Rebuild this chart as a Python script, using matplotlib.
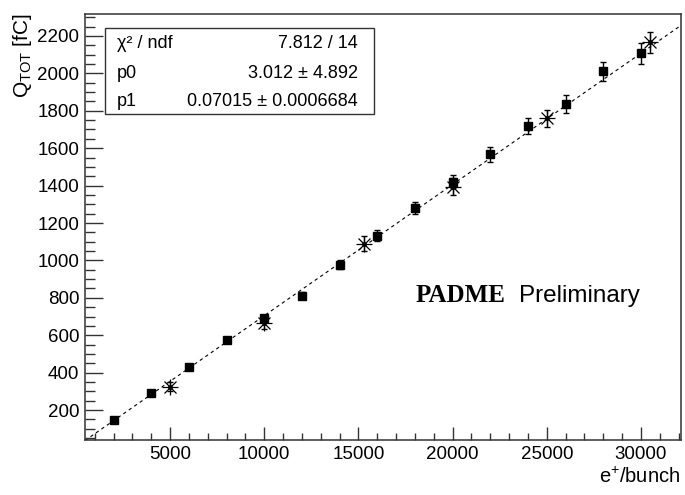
import matplotlib
matplotlib.use("Agg")
import numpy as np
from matplotlib import pyplot as plt
from matplotlib.patches import Rectangle
from matplotlib.ticker import MultipleLocator

plt.rcParams['font.family'] = ['Liberation Sans', 'DejaVu Sans']
plt.rcParams['mathtext.fontset'] = 'custom'
plt.rcParams['mathtext.rm'] = 'Liberation Sans'
plt.rcParams['mathtext.it'] = 'Liberation Sans:italic'
plt.rcParams['mathtext.bf'] = 'Liberation Sans:bold'

# square markers
sq_x = [2000, 4000, 6000, 8000, 10000, 12000, 14000, 16000, 18000,
        20000, 22000, 24000, 26000, 28000, 30000]
sq_y = [146, 292, 432, 574, 690, 812, 978, 1132, 1282,
        1421, 1567, 1719, 1836, 2010, 2107]
sq_err = [10, 12, 14, 16, 18, 20, 24, 28, 32, 36, 40, 43, 46, 53, 55]

# asterisk markers
st_x = [5000, 10000, 15300, 20000, 25000, 30500]
st_y = [325, 667, 1088, 1395, 1760, 2165]
st_err = [25, 35, 40, 45, 45, 55]

# linear fit result
p0, p0_err = 3.012, 4.892
p1, p1_err = 0.07015, 0.0006684
chi2, ndf = 7.812, 14

W, H = 685, 495
fig = plt.figure(figsize=(W / 100, H / 100), dpi=100)
L, R, T, B = 85, 681, 13.5, 440
ax = fig.add_axes([L / W, 1 - B / H, (R - L) / W, (B - T) / H])

xmin, xmax = 486, 32124
ymin, ymax = 40, 2320
ax.set_xlim(xmin, xmax)
ax.set_ylim(ymin, ymax)

# fit line
xf = np.array([xmin, xmax])
ax.plot(xf, p0 + p1 * xf, ls=(0, (3, 3)), color='black', lw=0.8, zorder=1)

ax.errorbar(sq_x, sq_y, yerr=sq_err, fmt='s', color='black', ms=5.8,
            elinewidth=1.0, capsize=2.5, capthick=1.0, zorder=3)
ax.errorbar(st_x, st_y, yerr=st_err, fmt='none', ecolor='black',
            elinewidth=1.0, capsize=2.5, capthick=1.0, zorder=3)
ax.plot(st_x, st_y, ls='none', marker='+', ms=11, mew=0.9, color='black', zorder=4)
ax.plot(st_x, st_y, ls='none', marker='x', ms=8, mew=0.9, color='black', zorder=4)
ax.plot(st_x, st_y, ls='none', marker='o', ms=2.5, color='black', zorder=4)

ax.xaxis.set_major_locator(MultipleLocator(5000))
ax.xaxis.set_minor_locator(MultipleLocator(1000))
ax.yaxis.set_major_locator(MultipleLocator(200))
ax.yaxis.set_minor_locator(MultipleLocator(50))
ax.tick_params(axis='both', which='both', direction='in', labelsize=13.5,
               top=False, right=False, width=1.0, color='#333333')
ax.tick_params(axis='x', which='major', length=9.4, pad=4)
ax.tick_params(axis='x', which='minor', length=5)
ax.tick_params(axis='y', which='major', length=13, pad=4)
ax.tick_params(axis='y', which='minor', length=7)
for s in ax.spines.values():
    s.set_linewidth(1.1)
    s.set_color('#333333')

# axis titles, ROOT style at the axis ends
fig.text(22 / W, 1 - 13 / H, r'Q$_{\mathrm{TOT}}$ [fC]', rotation=90,
         ha='center', va='top', fontsize=15)
fig.text(680 / W, 1 - 477 / H, r'e$^{+}$/bunch', ha='right', va='center',
         fontsize=14.5)


def axc(px, py):
    return (px - L) / (R - L), (B - py) / (B - T)


# stats box
bx0, by0 = axc(105, 114)
bx1, by1 = axc(374, 28)
ax.add_patch(Rectangle((bx0, by0), bx1 - bx0, by1 - by0, transform=ax.transAxes,
                       facecolor='white', edgecolor='#333333', lw=1.0, zorder=5))
rows = [('χ² / ndf', '{:.3f} / {}'.format(chi2, ndf)),
        ('p0', '{} ± {}'.format(p0, p0_err)),
        ('p1', '{} ± {}'.format(p1, p1_err))]
for (left, right), py in zip(rows, [44, 73, 102]):
    xl, yy = axc(117, py)
    xr, _ = axc(358, py)
    ax.text(xl, yy, left, transform=ax.transAxes, ha='left', va='center',
            fontsize=13, zorder=6)
    ax.text(xr, yy, right, transform=ax.transAxes, ha='right', va='center',
            fontsize=13, zorder=6)

xp, yp = axc(416, 302)
ax.text(xp, yp, 'PADME', transform=ax.transAxes, ha='left', va='baseline',
        fontsize=18, fontfamily='Liberation Serif', fontweight='bold')
xp, yp = axc(519, 302)
ax.text(xp, yp, 'Preliminary', transform=ax.transAxes, ha='left', va='baseline',
        fontsize=17.5)

fig.savefig('out.png', dpi=100)
